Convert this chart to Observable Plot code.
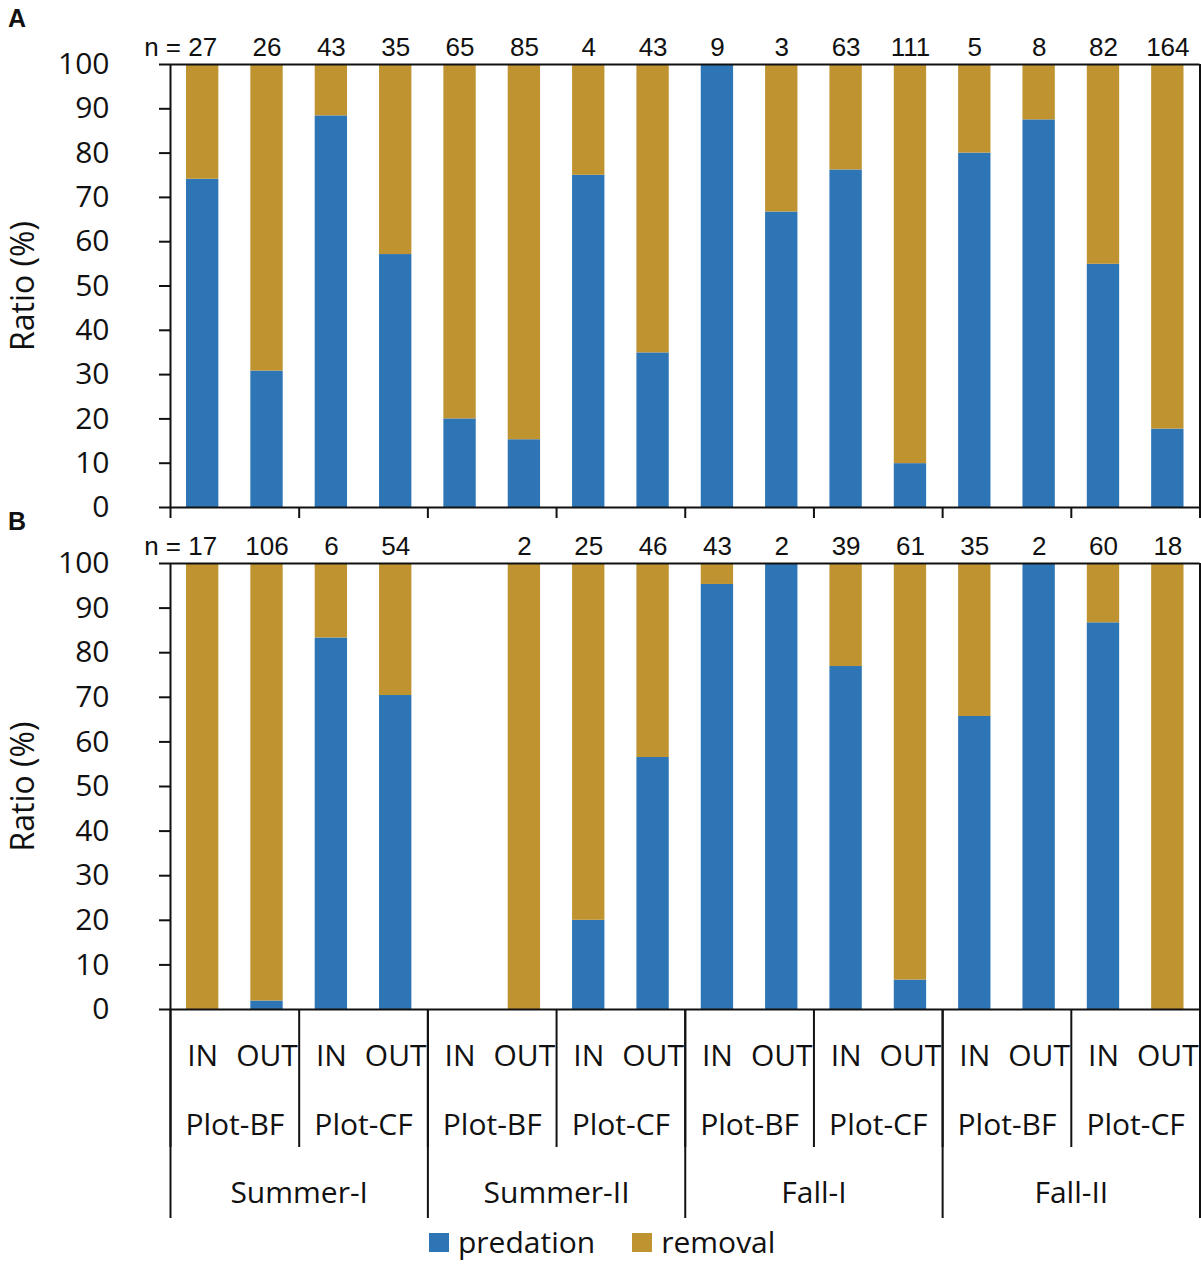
<!DOCTYPE html>
<html>
<head>
<meta charset="utf-8">
<script src="https://cdn.jsdelivr.net/npm/d3@7"></script>
<script src="https://cdn.jsdelivr.net/npm/@observablehq/plot@0.6"></script>
<style>
  body { margin: 0; background: #fff; }
  #wrap { position: relative; width: 1201px; height: 1266px; overflow: hidden; font-family: "Open Sans", sans-serif; color: #111; }
  .panel { position: absolute; left: 0; }
  .tag { position: absolute; left: 8px; font: bold 25px "Liberation Sans", Arial, sans-serif; line-height: 25px; z-index: 5; }
  #legend { position: absolute; top: 1222px; left: 429px; display: flex; align-items: center; font-size: 30px; line-height: 40px; z-index: 5; }
  #legend .sw { width: 20px; height: 19px; display: inline-block; margin-right: 9px; }
  #legend .item { display: flex; align-items: center; margin-right: 37px; }
</style>
</head>
<body>
<div id="wrap">
  <div id="panelA" class="panel" style="top:0px"></div>
  <div id="panelB" class="panel" style="top:525px"></div>
  <div class="tag" style="top:6px">A</div>
  <div class="tag" style="top:509px">B</div>
  <div id="legend"></div>
</div>
<script>
// ---- data ----
const seasons = ["Summer-I", "Summer-II", "Fall-I", "Fall-II"];
const plotNames = ["Plot-BF", "Plot-CF"];
const sites = ["IN", "OUT"];
const types = ["predation", "removal"];

// Panel A
const nA = [27, 26, 43, 35, 65, 85, 4, 43, 9, 3, 63, 111, 5, 8, 82, 164];
const predA = [74.1, 30.8, 88.4, 57.1, 20.0, 15.3, 75.0, 34.9, 100, 66.7, 76.2, 9.9, 80.0, 87.5, 54.9, 17.7];
const remA = [25.9, 69.2, 11.6, 42.9, 80.0, 84.7, 25.0, 65.1, 0, 33.3, 23.8, 90.1, 20.0, 12.5, 45.1, 82.3];

// Panel B (slot 5 has no data)
const nB = [17, 106, 6, 54, null, 2, 25, 46, 43, 2, 39, 61, 35, 2, 60, 18];
const predB = [0, 1.9, 83.3, 70.4, null, 0, 20.0, 56.5, 95.3, 100, 76.9, 6.6, 65.7, 100, 86.7, 0];
const remB = [100, 98.1, 16.7, 29.6, null, 100, 80.0, 43.5, 4.7, 0, 23.1, 93.4, 34.3, 0, 13.3, 100];

const yTicks = [0, 10, 20, 30, 40, 50, 60, 70, 80, 90, 100];

const blue = "#2E75B6";
const gold = "#BF9330";
const ink = "#111";

// ---- derived tables ----
const slots = [];
seasons.forEach((s) => plotNames.forEach((p) => sites.forEach((k) => slots.push({season: s, plot: p, site: k}))));
slots.forEach((d, i) => { d.i = i; });

function stackRows(n, pred, rem) {
  const out = [];
  n.forEach((v, i) => {
    if (v == null) return;
    out.push({type: "predation", x1: i, x2: i + 1, y1: 0, y2: pred[i]});
    out.push({type: "removal", x1: i, x2: i + 1, y1: pred[i], y2: pred[i] + rem[i]});
  });
  return out;
}
function nRows(n) {
  return n.map((v, i) => ({i, n: v})).filter((d) => d.n != null);
}

const groupEdges2 = d3.range(0, slots.length + 1, sites.length);
const groupEdges4 = d3.range(0, slots.length + 1, sites.length * plotNames.length);
const numFont = "'Liberation Sans', Arial, sans-serif";

function basePanel(n, pred, rem, {height, marginTop, marginBottom, extra}) {
  const ns = nRows(n);
  return Plot.plot({
    width: 1201,
    height,
    marginLeft: 170,
    marginRight: 1.5,
    marginTop,
    marginBottom,
    style: {fontFamily: "'Open Sans', sans-serif", fontSize: "30px", color: ink, background: "#fff"},
    x: {domain: [0, slots.length]},
    y: {domain: [0, 100]},
    color: {domain: types, range: [blue, gold]},
    marks: [
      Plot.rect(stackRows(n, pred, rem), {x1: "x1", x2: "x2", y1: "y1", y2: "y2", fill: "type", insetLeft: 16, insetRight: 16}),
      Plot.ruleX([0, slots.length], {stroke: ink, strokeWidth: 2}),
      Plot.ruleY([0, 100], {stroke: ink, strokeWidth: 2}),
      Plot.axisY({ticks: yTicks, tickSize: 11, tickPadding: 50, strokeWidth: 2, label: null, fontSize: 30, fill: ink}),
      Plot.text(["Ratio (%)"], {frameAnchor: "left", textAnchor: "middle", lineAnchor: "middle", rotate: -90, dx: -147, fontSize: 32, fill: ink}),
      Plot.text(ns.filter((d) => d.i > 0), {x: (d) => d.i + 0.5, text: (d) => String(d.n), frameAnchor: "top", lineAnchor: "middle", dy: -17, fontSize: 26, fontFamily: numFont, fill: ink}),
      Plot.text(ns.filter((d) => d.i === 0), {x: (d) => d.i + 0.5, text: (d) => "n = " + d.n, textAnchor: "end", lineAnchor: "middle", dx: 14.5, frameAnchor: "top", dy: -17, fontSize: 26, fontFamily: numFont, fill: ink}),
      ...extra
    ]
  });
}

const chartA = basePanel(nA, predA, remA, {
  height: 525, marginTop: 64, marginBottom: 18,
  extra: [
    Plot.axisX({ticks: groupEdges2, tickSize: 11, tickFormat: () => "", strokeWidth: 2, label: null})
  ]
});

const plotLabels = d3.range(0, slots.length, 2).map((i) => ({pos: i + 1, label: slots[i].plot}));
const seasonLabels = d3.range(0, slots.length, 4).map((i) => ({pos: i + 2, label: slots[i].season}));

const chartB = basePanel(nB, predB, remB, {
  height: 700, marginTop: 38, marginBottom: 216,
  extra: [
    Plot.axisX({ticks: groupEdges2, tickSize: 138, tickFormat: () => "", strokeWidth: 2, label: null}),
    Plot.axisX({ticks: groupEdges4, tickSize: 209, tickFormat: () => "", strokeWidth: 2, label: null}),
    Plot.text(slots, {x: (d) => d.i + 0.5, text: "site", frameAnchor: "bottom", lineAnchor: "middle", dy: 47, fontSize: 30, fill: ink}),
    Plot.text(plotLabels, {x: "pos", text: "label", frameAnchor: "bottom", lineAnchor: "middle", dy: 116, fontSize: 30, fill: ink}),
    Plot.text(seasonLabels, {x: "pos", text: "label", frameAnchor: "bottom", lineAnchor: "middle", dy: 184, fontSize: 30, fill: ink})
  ]
});

document.getElementById("panelA").appendChild(chartA);
document.getElementById("panelB").appendChild(chartB);

// legend
const legend = document.getElementById("legend");
types.forEach((t, j) => {
  const item = document.createElement("div");
  item.className = "item";
  const sw = document.createElement("span");
  sw.className = "sw";
  sw.style.background = j === 0 ? blue : gold;
  const lab = document.createElement("span");
  lab.textContent = t;
  item.appendChild(sw);
  item.appendChild(lab);
  legend.appendChild(item);
});
</script>
</body>
</html>
